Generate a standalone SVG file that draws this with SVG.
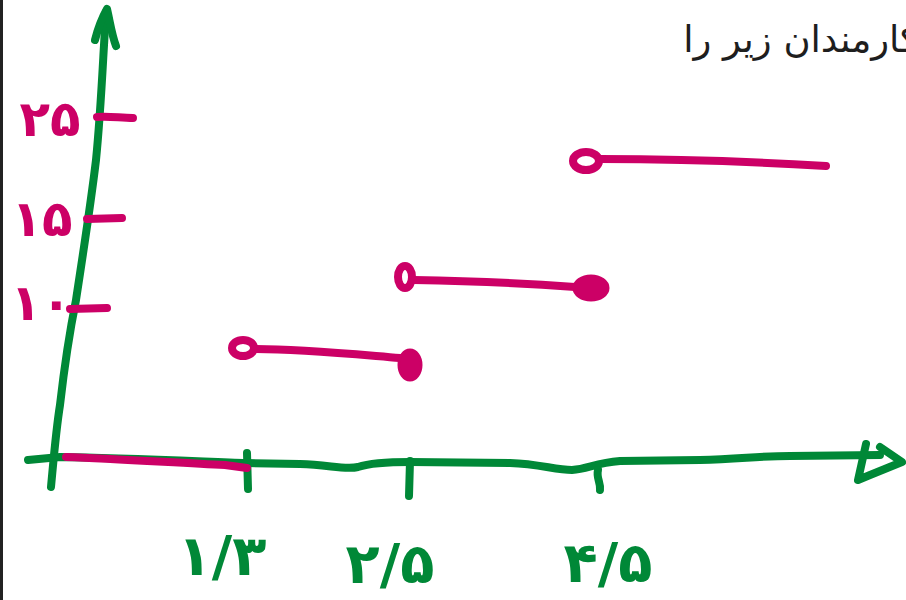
<svg xmlns="http://www.w3.org/2000/svg" width="906" height="600" viewBox="0 0 906 600">
<style>
.g{fill:none;stroke:#008837;stroke-width:8;stroke-linecap:round;stroke-linejoin:round}
.m{fill:none;stroke:#CC0066;stroke-width:8;stroke-linecap:round;stroke-linejoin:round}
.mf{fill:#CC0066;stroke:#CC0066;stroke-width:3}
.lg{font-family:"DejaVu Sans",sans-serif;font-size:56px;font-weight:bold;fill:#008837}
.lm{font-family:"DejaVu Sans",sans-serif;font-size:50px;font-weight:bold;fill:#CC0066}
.t{font-family:"DejaVu Sans",sans-serif;font-size:37px;fill:#1e1e1e}
</style>
<rect x="0" y="0" width="906" height="600" fill="#ffffff"/>
<rect x="0" y="0" width="3" height="600" fill="#222222"/>
<text class="t" x="918" y="52" text-anchor="end">کارمندان زیر را</text>
<g id="axes">
<path id="y-axis" class="g" d="M51,487 C54,455 56,430 60,405 C64,370 70,330 76,300 C82,260 90,210 96,160 C100,120 102,80 104,45 L106,12"/>
<path id="y-arrow" class="g" d="M95,40 C98,28 102,18 107,9 C110,22 112,36 116,46"/>
<path id="x-axis" class="g" d="M28,460 L60,457 C120,458 190,461 247,463 L300,464 C330,465 345,470 358,467 C370,463 390,462 410,462 L510,463 C540,464 555,470 572,470 C588,469 595,463 620,461 L700,460 C740,459 760,456 790,456 L880,455"/>
<path id="x-arrow" class="g" d="M866,444 L858,480 L870,475 L902,462 L880,447"/>
<path id="xt1" class="g" d="M247,453 L248,489"/>
<path id="xt2" class="g" d="M410,461 L409,496"/>
<path id="xt3" class="g" d="M598,470 C596,478 601,483 600,490"/>
</g>
<g id="y-ticks">
<path class="m" d="M97,117 C110,116 120,118 133,118"/>
<path class="m" d="M87,219 L122,218"/>
<path class="m" d="M70,309 L107,308"/>
</g>
<g id="y-labels">
<text class="lm" x="50" y="136" text-anchor="middle">۲۵</text>
<text class="lm" x="42" y="236" text-anchor="middle">۱۵</text>
<text class="lm" x="41" y="320" text-anchor="middle">۱۰</text>
</g>
<g id="x-labels">
<text class="lg" x="222" y="575" text-anchor="middle">۱/۳</text>
<text class="lg" x="390" y="583" text-anchor="middle">۲/۵</text>
<text class="lg" x="608" y="582" text-anchor="middle">۴/۵</text>
</g>
<g id="segment-0">
<path class="m" d="M66,457 C120,459 180,463 225,465 L247,468"/>
</g>
<g id="segment-1">
<ellipse class="m" cx="243" cy="348" rx="11" ry="8"/>
<path class="m" d="M256,349 C300,349 340,353 400,358"/>
<ellipse class="mf" cx="410" cy="365" rx="11" ry="15"/>
</g>
<g id="segment-2">
<ellipse class="m" cx="405" cy="277" rx="7" ry="11"/>
<path class="m" d="M414,280 C470,281 520,283 575,287"/>
<ellipse class="mf" cx="591" cy="288" rx="17" ry="12"/>
</g>
<g id="segment-3">
<ellipse class="m" cx="586" cy="161" rx="13" ry="9"/>
<path class="m" d="M600,159 C680,159 760,162 826,166"/>
</g>
</svg>
